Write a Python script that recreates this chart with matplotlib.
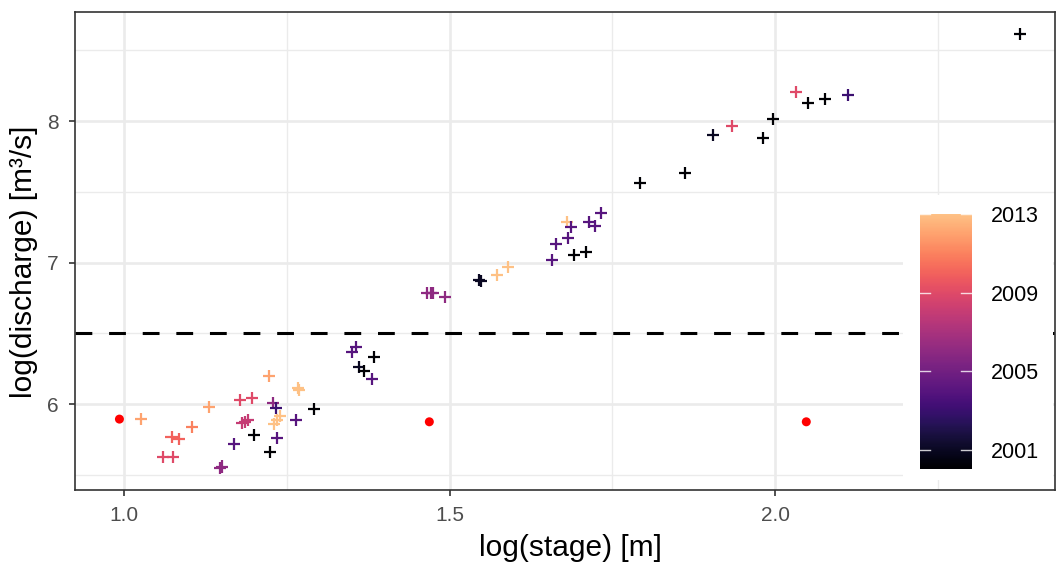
import matplotlib
matplotlib.use("Agg")
import matplotlib.pyplot as plt
import numpy as np
from matplotlib.colors import ListedColormap

plt.rcParams['font.family'] = ['Liberation Sans', 'DejaVu Sans']

# ---- data ----
stage = [1.026, 1.073, 1.085, 1.105, 1.131, 1.060, 1.076, 1.222, 1.178, 1.197,
         1.229, 1.233, 1.181, 1.186, 1.190, 1.269, 1.267, 1.292, 1.264, 1.235,
         1.240, 1.230, 1.200, 1.169, 1.235, 1.224, 1.147, 1.150,
         1.350, 1.356, 1.384, 1.361, 1.368, 1.381, 1.465, 1.472, 1.475, 1.493,
         1.546, 1.548, 1.573, 1.590, 1.657, 1.663, 1.681, 1.686, 1.682, 1.691,
         1.709, 1.714, 1.723, 1.733,
         1.793, 1.862, 1.905, 1.934, 1.982, 1.997, 2.032, 2.050, 2.076, 2.112, 2.376]
discharge = [5.895, 5.766, 5.752, 5.837, 5.980, 5.625, 5.629, 6.199, 6.030, 6.042,
             6.011, 5.971, 5.865, 5.876, 5.888, 6.100, 6.114, 5.966, 5.888, 5.888,
             5.917, 5.860, 5.784, 5.719, 5.763, 5.664, 5.547, 5.560,
             6.371, 6.402, 6.336, 6.265, 6.237, 6.178, 6.784, 6.784, 6.786, 6.755,
             6.878, 6.872, 6.913, 6.967, 7.019, 7.132, 7.290, 7.254, 7.172, 7.054,
             7.073, 7.286, 7.259, 7.349,
             7.563, 7.636, 7.902, 7.966, 7.883, 8.013, 8.206, 8.131, 8.159, 8.185, 8.617]
year = [2012, 2010, 2010, 2011, 2012, 2009, 2009, 2012, 2009, 2009,
        2006, 2003, 2008, 2008, 2008, 2013, 2013, 2000, 2004, 2013,
        2013, 2013, 2000, 2004, 2004, 2000, 2006, 2006,
        2004, 2004, 2000, 2001, 2000, 2004, 2006, 2006, 2006, 2006,
        2001, 2001, 2013, 2013, 2004, 2004, 2013, 2004, 2004, 2000,
        2000, 2004, 2004, 2004,
        2000, 2000, 2001, 2009, 2000, 2000, 2009, 2000, 2000, 2003, 2000]

outlier_stage = [0.993, 1.469, 2.048]
outlier_discharge = [5.895, 5.876, 5.876]

threshold = 6.5
x_ticks = [1.0, 1.5, 2.0]
x_ticklabels = ['1.0', '1.5', '2.0']
y_ticks = [6, 7, 8]
y_ticklabels = ['6', '7', '8']
cbar_ticks = [2001, 2005, 2009, 2013]
year_min, year_max = 2000, 2013

# ---- colormap: magma truncated ----
base = plt.get_cmap('magma')
cmap = ListedColormap(base(np.linspace(0.0, 0.87, 256)))

W, H = 1059, 566
fig = plt.figure(figsize=(W / 100, H / 100), dpi=100)
ax = fig.add_axes([74.7 / W, (H - 490) / H, (1055 - 74.7) / W, (490 - 12) / H])

ax.set_xlim(0.9243, 2.430)
ax.set_ylim(5.394, 8.772)

# grid
ax.set_xticks(x_ticks)
ax.set_yticks(y_ticks)
ax.set_xticks([1.25, 1.75, 2.25], minor=True)
ax.set_yticks([5.5, 6.5, 7.5, 8.5], minor=True)
ax.grid(which='major', color='#ebebeb', linewidth=1.9, zorder=0)
ax.grid(which='minor', color='#ebebeb', linewidth=1.0, zorder=0)
ax.set_axisbelow(True)
ax.tick_params(which='minor', length=0)
ax.tick_params(which='major', length=4, width=1.2, color='#333333',
               labelcolor='#4d4d4d', labelsize=15, pad=7.5)
ax.set_xticklabels(x_ticklabels)
ax.set_yticklabels(y_ticklabels)
for s in ax.spines.values():
    s.set_color('#333333')
    s.set_linewidth(1.2)

ax.axhline(threshold, color='black', linewidth=2.2, dashes=(5.5, 5.5), zorder=2)

sc = ax.scatter(stage, discharge, c=year, cmap=cmap, vmin=year_min, vmax=year_max,
                marker='+', s=75, linewidths=1.6, zorder=3)
ax.scatter(outlier_stage, outlier_discharge, color='#ff0000', s=42, zorder=3,
           edgecolors='none')

ax.set_xlabel('log(stage) [m]', fontsize=21.5)
ax.set_ylabel('log(discharge) [m³/s]', fontsize=21.5)
ax.xaxis.set_label_coords(0.506, -0.092)
ax.yaxis.set_label_coords(-0.037, 0.478)

# legend background box (drawn over the panel)
box = fig.add_axes([903 / W, (H - 480) / H, 150 / W, 285 / H])
box.set_facecolor('white')
box.set_xticks([])
box.set_yticks([])
for s in box.spines.values():
    s.set_visible(False)

cax = fig.add_axes([920 / W, (H - 469.3) / H, 51.5 / W, 255.3 / H])
cb = fig.colorbar(sc, cax=cax)
cb.outline.set_visible(False)
cax.set_ylim(year_min, year_max)
cb.set_ticks(cbar_ticks)
cax.tick_params(length=0, labelsize=15.5, labelcolor='black', pad=14)
for t in cbar_ticks:
    cax.axhline(t, 0, 0.2, color='white', linewidth=1.0, alpha=0.8)
    cax.axhline(t, 0.8, 1.0, color='white', linewidth=1.0, alpha=0.8)

fig.savefig('out.png', dpi=100)
